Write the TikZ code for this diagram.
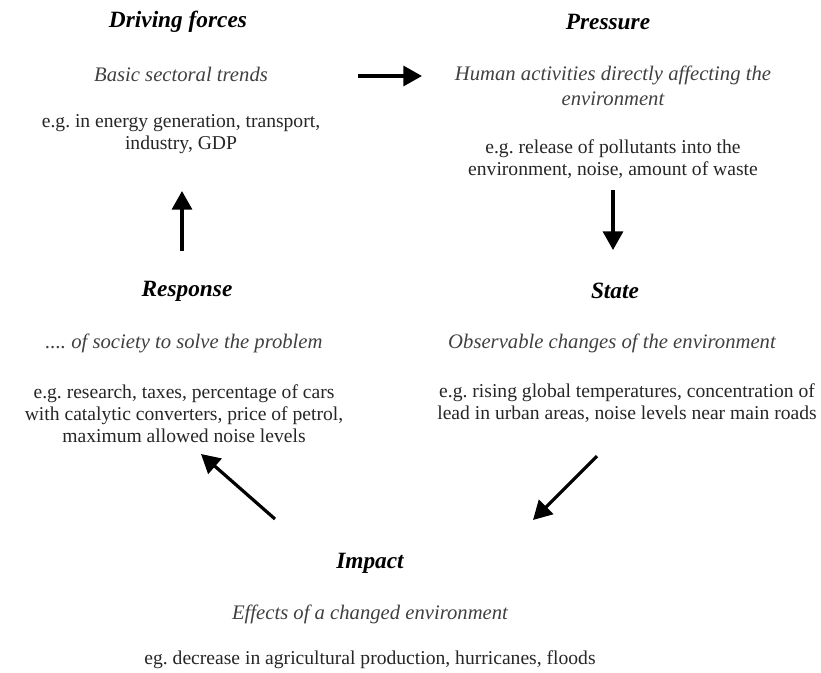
\documentclass[tikz,border=0pt]{standalone}
\usepackage{fontspec}
\setmainfont{Liberation Serif}
\usetikzlibrary{arrows.meta}
\frenchspacing

\begin{document}
\begin{tikzpicture}[
  x=0.75pt, y=-0.75pt,
  title/.style={font=\fontsize{17.5}{20}\selectfont\bfseries\itshape, text=black, inner sep=0pt},
  subtitle/.style={font=\fontsize{15.5}{18.5}\selectfont\itshape, text=black!75, align=center, inner sep=0pt},
  body/.style={font=\fontsize{14.7}{16.5}\selectfont, text=black!85, align=center, inner sep=0pt},
  flow/.style={line width=2.4pt, draw=black, -{Triangle[length=14pt, width=15pt]}}
]
  \useasboundingbox (0,0) rectangle (821,672);

  % --- DRIVING FORCES ---
  \node[title]    (dftitle) at (178, 22)  {Driving forces};
  \node[subtitle] (dfsub)   at (181, 74)  {Basic sectoral trends};
  \node[body]     (dfbody)  at (181, 134) {e.g. in energy generation, transport,\\industry, GDP};

  % --- PRESSURE ---
  \node[title]    (prtitle) at (608, 22)  {Pressure};
  \node[subtitle] (prsub)   at (613, 86)  {Human activities directly affecting the\\environment};
  \node[body]     (prbody)  at (613, 159) {e.g. release of pollutants into the\\environment, noise, amount of waste};

  % --- STATE ---
  \node[title]    (sttitle) at (615, 291) {State};
  \node[subtitle] (stsub)   at (612, 343) {Observable changes of the environment};
  \node[body]     (stbody)  at (627, 403) {e.g. rising global temperatures, concentration of\\lead in urban areas, noise levels near main roads};

  % --- IMPACT ---
  \node[title]    (imtitle) at (370, 563) {Impact};
  \node[subtitle] (imsub)   at (370, 614) {Effects of a changed environment};
  \node[body]     (imbody)  at (370, 660) {eg. decrease in agricultural production, hurricanes, floods};

  % --- RESPONSE ---
  \node[title]    (retitle) at (187, 291) {Response};
  \node[subtitle] (resub)   at (184, 343) {.... of society to solve the problem};
  \node[body]     (rebody)  at (184, 414) {e.g. research, taxes, percentage of cars\\with catalytic converters, price of petrol,\\maximum allowed noise levels};

  % --- ARROWS ---
  \coordinate (dfout) at (358, 76);  \coordinate (prin) at (422, 76);
  \coordinate (prout) at (613, 190); \coordinate (stin) at (613, 250);
  \coordinate (stout) at (597, 456); \coordinate (imin) at (533, 520);
  \coordinate (imout) at (275, 519); \coordinate (rein) at (201, 454);
  \coordinate (reout) at (182, 251); \coordinate (dfin) at (182, 191);

  \draw[flow] (dfout) -- (prin);
  \draw[flow] (prout) -- (stin);
  \draw[flow] (stout) -- (imin);
  \draw[flow] (imout) -- (rein);
  \draw[flow] (reout) -- (dfin);
\end{tikzpicture}
\end{document}
